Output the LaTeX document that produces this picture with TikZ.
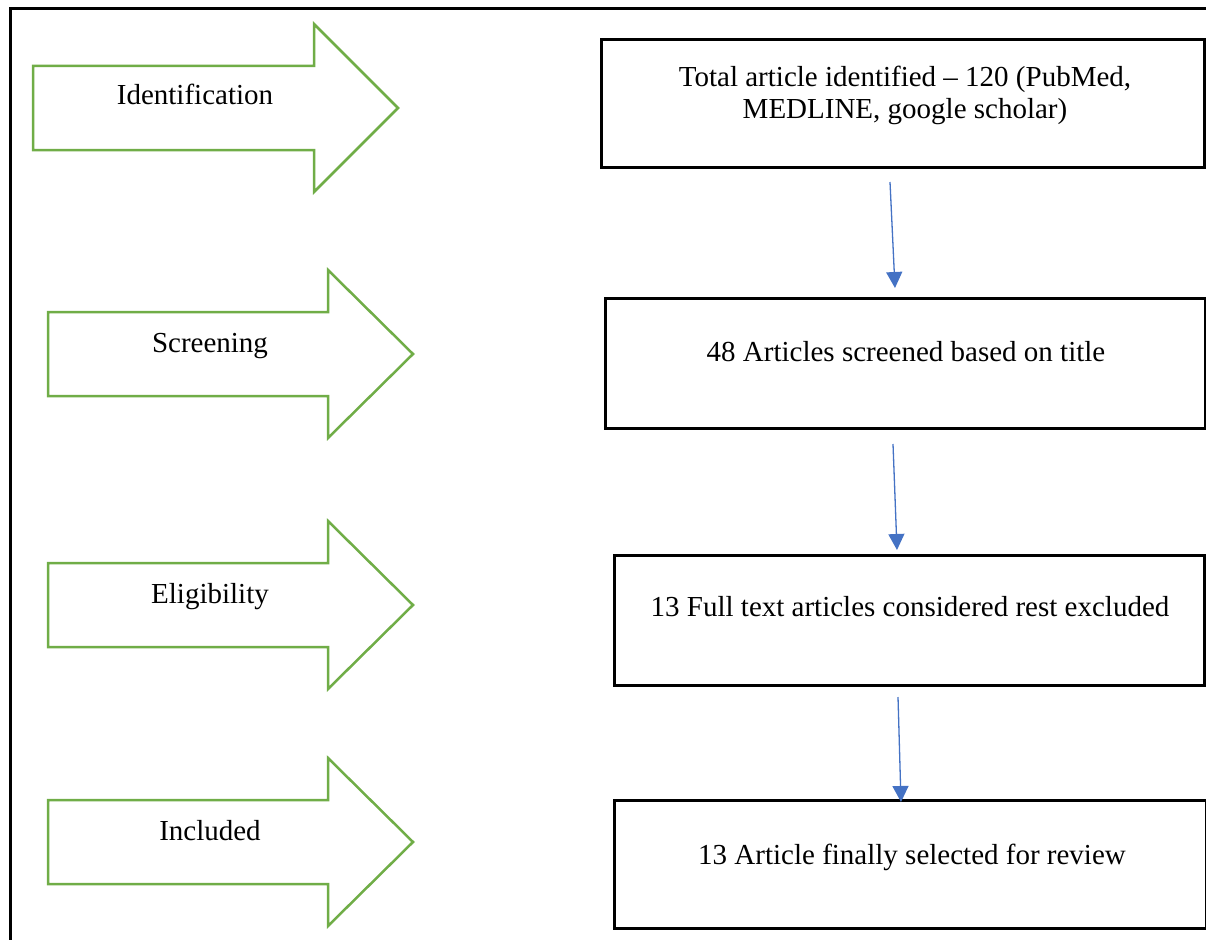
\documentclass[tikz,border=0pt]{standalone}
\usepackage{fontspec}
\setmainfont{Liberation Serif}
\usetikzlibrary{arrows.meta}
\definecolor{arrgreen}{RGB}{112,173,71}
\definecolor{arrblue}{RGB}{68,114,196}
\tikzset{
  stagebox/.style={draw=black, line width=3pt, rectangle, inner sep=0pt},
  stagearrow/.style={draw=arrgreen, line width=2.5pt, line join=miter, fill=white},
  flowarrow/.style={draw=arrblue, line width=1.3pt, -{Triangle[length=16pt,width=16pt]}},
  lbl/.style={anchor=base, inner sep=0pt, font=\fontsize{29}{32}\selectfont, text=black},
  boxtxt/.style={anchor=base, inner sep=0pt, font=\fontsize{29}{32}\selectfont, text=black, align=center}
}
\begin{document}
\begin{tikzpicture}[x=1pt,y=-1pt]
\useasboundingbox (0,0) rectangle (1206,939);
\clip (0,0) rectangle (1206,939);
% outer frame
\draw[line width=3pt] (10,9) rectangle (1230,960);

% green stage arrows
\draw[stagearrow] (33,66) -- (314,66) -- (314,24) -- (398,108) -- (314,192) -- (314,150) -- (33,150) -- cycle;
\draw[stagearrow] (48,312) -- (328,312) -- (328,270) -- (413,354) -- (328,438) -- (328,396) -- (48,396) -- cycle;
\draw[stagearrow] (48,563) -- (328,563) -- (328,521) -- (413,605) -- (328,689) -- (328,647) -- (48,647) -- cycle;
\draw[stagearrow] (48,800) -- (328,800) -- (328,758) -- (413,842) -- (328,926) -- (328,884) -- (48,884) -- cycle;

\node[lbl] (l1) at (195,105) {Identification};
\node[lbl] (l2) at (210,352) {Screening};
\node[lbl] (l3) at (210,603) {Eligibility};
\node[lbl] (l4) at (210,840) {Included};

% boxes
\node[stagebox, minimum width=603pt, minimum height=127pt] (b1) at (902.5,103.5) {};
\node[stagebox, minimum width=600pt, minimum height=130pt] (b2) at (905,363) {};
\node[stagebox, minimum width=590pt, minimum height=130pt] (b3) at (909,620) {};
\node[stagebox, minimum width=592pt, minimum height=128pt] (b4) at (910,864) {};

\node[boxtxt] (t1) at (905,118) {Total article identified -- 120 (PubMed,\\MEDLINE, google scholar)};
\node[boxtxt] (t2) at (906,361) {48 Articles screened based on title};
\node[boxtxt] (t3) at (910,616) {13 Full text articles considered rest excluded};
\node[boxtxt] (t4) at (912,864) {13 Article finally selected for review};

% connectors
\coordinate (s1) at (890,182); \coordinate (e1) at (895,288);
\coordinate (s2) at (893,444); \coordinate (e2) at (897,550);
\coordinate (s3) at (898,697); \coordinate (e3) at (901,802);
\draw[flowarrow] (s1) -- (e1);
\draw[flowarrow] (s2) -- (e2);
\draw[flowarrow] (s3) -- (e3);
\end{tikzpicture}
\end{document}
